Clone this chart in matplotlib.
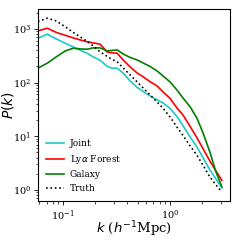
import matplotlib
matplotlib.use("Agg")
import matplotlib.pyplot as plt

k = [0.058, 0.071, 0.086, 0.105, 0.124, 0.144, 0.168, 0.191, 0.222, 0.258,
     0.287, 0.320, 0.364, 0.423, 0.492, 0.560, 0.650, 0.756, 0.860, 1.00,
     1.16, 1.32, 1.54, 1.79, 2.03, 2.36, 2.69, 3.06]

p_truth = [1368, 1582, 1409, 1089, 861, 710, 585, 482, 372, 308,
           270, 243, 188, 139, 103, 79.6, 58.9, 43.6, 33.3, 22.9,
           14.9, 10.4, 6.61, 4.40, 2.92, 1.75, 1.24, 0.92]

p_lya = [918, 1030, 861, 757, 680, 624, 573, 549, 519, 372,
         357, 352, 264, 196, 151, 128, 104, 86.7, 67.0, 50.7,
         33.7, 25.0, 15.3, 9.31, 5.93, 3.47, 2.26, 1.50]

p_galaxy = [185, 230, 301, 389, 437, 424, 418, 443, 443, 389,
            397, 406, 342, 294, 264, 232, 200, 165, 133, 103,
            73.0, 51.8, 35.6, 21.5, 11.8, 5.11, 2.17, 1.14]

p_joint = [672, 796, 652, 537, 462, 401, 350, 301, 259, 200,
           185, 185, 151, 107, 81.3, 68.4, 56.4, 47.6, 41.8, 33.0,
           23.4, 15.9, 9.73, 6.32, 4.03, 2.36, 1.60, 1.09]

plt.rcParams['font.family'] = 'serif'

fig = plt.figure(figsize=(2.4, 2.4), dpi=100)
ax = fig.add_axes([0.158, 0.1625, 0.8, 0.8])

ax.loglog(k, p_joint, color='#1fc8c8', lw=1.2, label='Joint')
ax.loglog(k, p_lya, color='red', lw=1.2, label=r'Ly$\alpha$ Forest')
ax.loglog(k, p_galaxy, color='green', lw=1.2, label='Galaxy')
ax.loglog(k, p_truth, color='black', lw=1.2, ls=':', label='Truth')

ax.set_xlim(0.058, 3.64)
ax.set_ylim(0.62, 2350)
ax.tick_params(labelsize=7, length=3, width=0.6, pad=2)
ax.tick_params(which='minor', length=1.8, width=0.5)
for s in ax.spines.values():
    s.set_linewidth(0.8)

ax.set_xlabel(r'$k$ ($h^{-1}$Mpc)', fontsize=9.5)
ax.set_ylabel(r'$P(k)$', fontsize=10)
ax.xaxis.set_label_coords(0.5, -0.095)
ax.yaxis.set_label_coords(-0.115, 0.5)

ax.legend(loc='lower left', fontsize=6.5, frameon=False, handlelength=2.0,
          handletextpad=0.6, borderaxespad=0.5, labelspacing=0.5)

fig.savefig('out.png', dpi=100)
